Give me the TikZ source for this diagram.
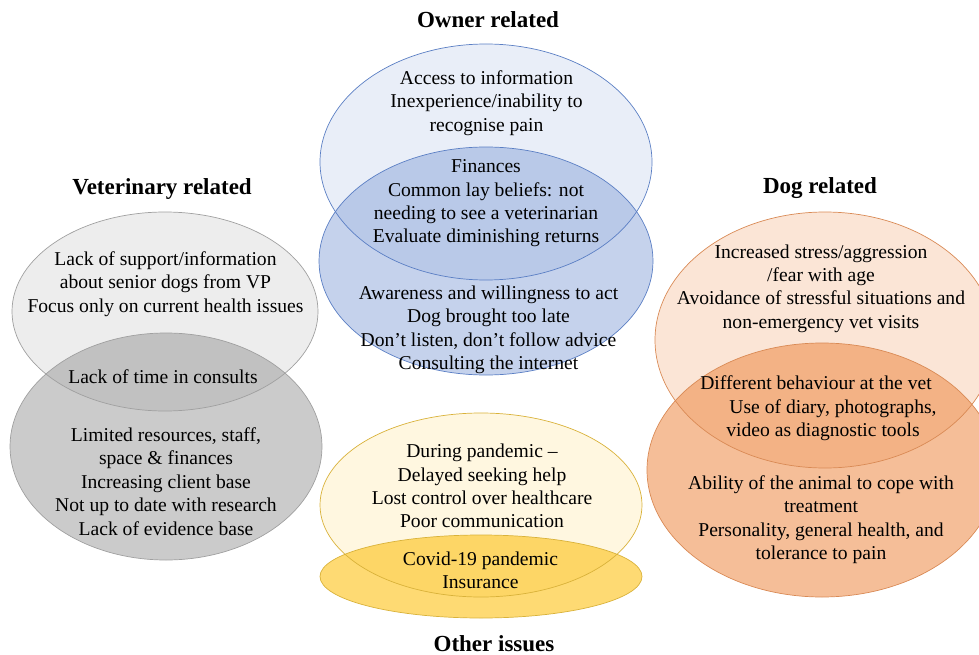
\documentclass[tikz,border=0pt]{standalone}
\usepackage{fontspec}
\setmainfont{Liberation Serif}
\usetikzlibrary{shapes.geometric}
\definecolor{bluetop}{HTML}{E9EEF8}
\definecolor{bluebot}{HTML}{8BA5D9}
\definecolor{bluestroke}{HTML}{5B7FC4}
\definecolor{greytop}{HTML}{EDEDED}
\definecolor{greybot}{HTML}{979797}
\definecolor{greystroke}{HTML}{A0A0A0}
\definecolor{orangetop}{HTML}{FBE5D6}
\definecolor{orangebot}{HTML}{ED8944}
\definecolor{orangestroke}{HTML}{D98A55}
\definecolor{yellowtop}{HTML}{FFF7E0}
\definecolor{yellowbot}{HTML}{FDC116}
\definecolor{yellowstroke}{HTML}{D9B23A}
\tikzset{
  ell/.style={ellipse, inner sep=0pt, line width=0.7pt},
  txt/.style={align=center, font=\fontsize{19.6}{23.4}\selectfont, inner sep=0pt},
  ttl/.style={font=\fontsize{23}{26}\selectfont\bfseries, inner sep=0pt},
}
\begin{document}
\begin{tikzpicture}[x=1pt,y=-1pt]
\path[use as bounding box, clip] (0,0) rectangle (979,655);
% Owner related
\node[ell, fill=bluetop, minimum width=332pt, minimum height=236pt] (ownA) at (486,162) {};
\node[ell, fill=bluebot, fill opacity=0.5, minimum width=334pt, minimum height=228pt] (ownB) at (486,261) {};
\node[ell, draw=bluestroke, minimum width=332pt, minimum height=236pt] (ownAl) at (486,162) {};
\node[ell, draw=bluestroke, minimum width=334pt, minimum height=228pt] (ownBl) at (486,261) {};
% Veterinary related
\node[ell, fill=greytop, minimum width=306pt, minimum height=199pt] (vetA) at (165,311.5) {};
\node[ell, fill=greybot, fill opacity=0.5, minimum width=312pt, minimum height=227pt] (vetB) at (166,446.5) {};
\node[ell, draw=greystroke, minimum width=306pt, minimum height=199pt] (vetAl) at (165,311.5) {};
\node[ell, draw=greystroke, minimum width=312pt, minimum height=227pt] (vetBl) at (166,446.5) {};
% Dog related
\node[ell, fill=orangetop, minimum width=340pt, minimum height=256pt] (dogA) at (825,340) {};
\node[ell, fill=orangebot, fill opacity=0.55, minimum width=350pt, minimum height=254pt] (dogB) at (822,470) {};
\node[ell, draw=orangestroke, minimum width=340pt, minimum height=256pt] (dogAl) at (825,340) {};
\node[ell, draw=orangestroke, minimum width=350pt, minimum height=254pt] (dogBl) at (822,470) {};
% Other issues
\node[ell, fill=yellowtop, minimum width=322pt, minimum height=184pt] (othA) at (481,505) {};
\node[ell, fill=yellowbot, fill opacity=0.6, minimum width=322pt, minimum height=83pt] (othB) at (481,576.5) {};
\node[ell, draw=yellowstroke, minimum width=322pt, minimum height=184pt] (othAl) at (481,505) {};
\node[ell, draw=yellowstroke, minimum width=322pt, minimum height=83pt] (othBl) at (481,576.5) {};
% Titles
\node[ttl] (tOwn) at (488,20) {Owner related};
\node[ttl] (tVet) at (162,189) {Veterinary related};
\node[ttl] (tDog) at (820,188) {Dog related};
\node[ttl] (tOth) at (494,644) {Other issues};
% Texts
\node[txt] (xOwnA) at (486.5,103) {Access to information\\Inexperience/inability to\\recognise pain};
\node[txt] (xOwnAB) at (486,203.5) {Finances\\Common lay beliefs: not\\needing to see a veterinarian\\Evaluate diminishing returns};
\node[txt] (xOwnB) at (488.5,330) {Awareness and willingness to act\\Dog brought too late\\Don’t listen, don’t follow advice\\Consulting the internet};
\node[txt] (xVetA) at (165.5,284) {Lack of support/information\\about senior dogs from VP\\Focus only on current health issues};
\node[txt] (xVetAB) at (163,377) {Lack of time in consults};
\node[txt] (xVetB) at (166,481.5) {Limited resources, staff,\\space \& finances\\Increasing client base\\Not up to date with research\\Lack of evidence base};
\node[txt] (xDogA) at (821,288.5) {Increased stress/aggression\\/fear with age\\Avoidance of stressful situations and\\non-emergency vet visits};
\node[txt] (xDogAB) at (823,408.5) {Different behaviour at the vet\hspace*{14pt}\\\hspace*{20pt}Use of diary, photographs,\\video as diagnostic tools};
\node[txt] (xDogB) at (821,519.5) {Ability of the animal to cope with\\treatment\\Personality, general health, and\\tolerance to pain};
\node[txt] (xOthA) at (482,486) {During pandemic –\\Delayed seeking help\\Lost control over healthcare\\Poor communication};
\node[txt] (xOthB) at (480.5,570.5) {Covid-19 pandemic\\Insurance};
\end{tikzpicture}
\end{document}
